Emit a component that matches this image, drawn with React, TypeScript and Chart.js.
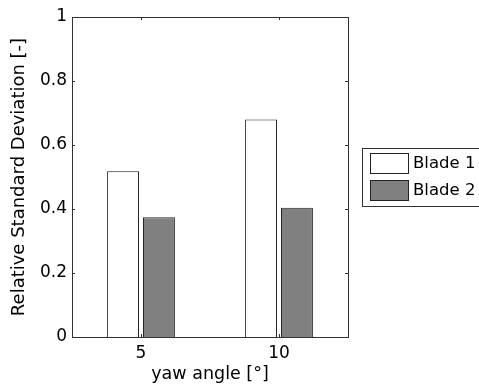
import React, { useEffect, useRef } from "react";
import { Chart, registerables } from "chart.js";

Chart.register(...registerables);

const categories = ["5", "10"];
const blade1 = [0.518, 0.68];
const blade2 = [0.374, 0.404];
const seriesNames = ["Blade 1", "Blade 2"];
const yTicks = [0, 0.2, 0.4, 0.6, 0.8, 1];

const FONT = "'DejaVu Sans', sans-serif";

const framePlugin = {
  id: "frame",
  afterDraw(chart: any) {
    const { ctx, chartArea } = chart;
    const { left, right, top, bottom } = chartArea;
    const y = chart.scales.y;
    const x = chart.scales.x;
    ctx.save();
    ctx.strokeStyle = "#333";
    ctx.lineWidth = 1;
    ctx.strokeRect(left + 0.5, top + 0.5, right - left, bottom - top);
    ctx.beginPath();
    yTicks.forEach((v) => {
      const py = Math.round(y.getPixelForValue(v)) + 0.5;
      ctx.moveTo(left, py);
      ctx.lineTo(left + 3, py);
      ctx.moveTo(right, py);
      ctx.lineTo(right - 3, py);
    });
    categories.forEach((_, i) => {
      const px = Math.round(x.getPixelForValue(i)) + 0.5;
      ctx.moveTo(px, bottom);
      ctx.lineTo(px, bottom - 3);
      ctx.moveTo(px, top);
      ctx.lineTo(px, top + 3);
    });
    ctx.stroke();

    // legend
    const bx = 362.5, by = 148.5;
    ctx.fillStyle = "#fff";
    ctx.fillRect(bx, by, 130, 58);
    ctx.strokeStyle = "#333";
    ctx.strokeRect(bx, by, 130, 58);
    const fills = ["#ffffff", "#808080"];
    ctx.font = `16.5px ${FONT}`;
    ctx.textBaseline = "middle";
    seriesNames.forEach((name, i) => {
      const sy = 153.5 + i * 27;
      ctx.fillStyle = fills[i];
      ctx.fillRect(370.5, sy, 38, 20);
      ctx.strokeStyle = "#222";
      ctx.strokeRect(370.5, sy, 38, 20);
      ctx.fillStyle = "#000";
      ctx.fillText(name, 413, sy + 10.5);
    });
    ctx.restore();
  },
};

export default function App() {
  const ref = useRef<HTMLCanvasElement>(null);
  useEffect(() => {
    if (!ref.current) return;
    const chart = new Chart(ref.current, {
      type: "bar",
      data: {
        labels: categories,
        datasets: [
          {
            label: seriesNames[0],
            data: blade1,
            backgroundColor: "#ffffff",
            borderColor: "#222",
            borderWidth: 1,
          },
          {
            label: seriesNames[1],
            data: blade2,
            backgroundColor: "#808080",
            borderColor: "#222",
            borderWidth: 1,
          },
        ],
      },
      options: {
        animation: false,
        responsive: false,
        maintainAspectRatio: false,
        layout: { padding: { left: 0, right: 131, top: 17, bottom: 0 } },
        datasets: { bar: { categoryPercentage: 0.52, barPercentage: 0.89 } },
        plugins: { legend: { display: false }, tooltip: { enabled: false } },
        scales: {
          x: {
            offset: true,
            grid: { display: false, drawTicks: false },
            border: { display: false },
            ticks: { color: "#000", font: { family: FONT, size: 17 }, padding: 6, maxRotation: 0 },
            title: {
              display: true,
              text: "yaw angle [°]",
              color: "#000",
              font: { family: FONT, size: 17.5 },
              padding: { top: 0, bottom: 0 },
            },
            afterFit: (s: any) => {
              s.height = 48;
            },
          },
          y: {
            min: 0,
            max: 1,
            afterBuildTicks: (s: any) => {
              s.ticks = yTicks.map((v) => ({ value: v }));
            },
            grid: { display: false, drawTicks: false },
            border: { display: false },
            ticks: {
              color: "#000",
              font: { family: FONT, size: 17 },
              padding: 5,
              callback: (v: any) => String(v),
            },
            title: {
              display: true,
              text: "Relative Standard Deviation [-]",
              color: "#000",
              font: { family: FONT, size: 18 },
              padding: { top: 9, bottom: 0 },
            },
            afterFit: (s: any) => {
              s.width = 72;
            },
          },
        },
      },
      plugins: [framePlugin],
    });
    return () => chart.destroy();
  }, []);
  return (
    <div style={{ position: "fixed", left: 0, top: 0, width: 479, height: 385, background: "#fff" }}>
      <canvas ref={ref} width={479} height={385} style={{ width: 479, height: 385 }} />
    </div>
  );
}
